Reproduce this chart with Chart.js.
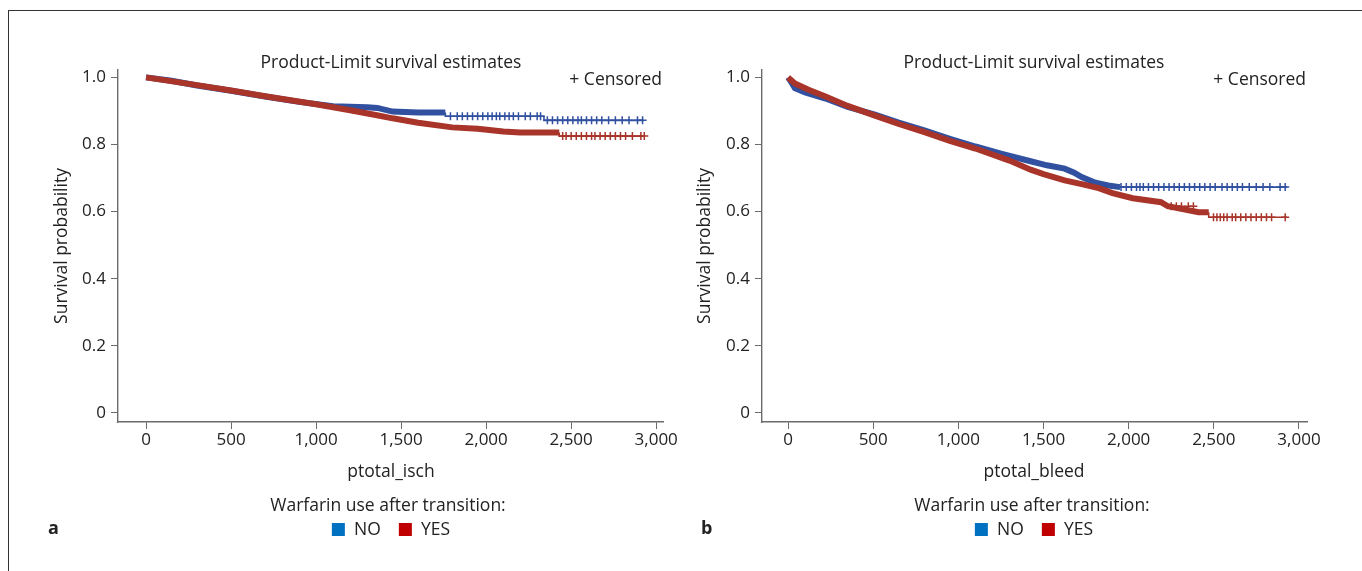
<!DOCTYPE html>
<html>
<head>
<meta charset="utf-8">
<script src="https://cdn.jsdelivr.net/npm/chart.js@4.4.1/dist/chart.umd.min.js"></script>
<style>
  body { margin: 0; background: #fff; width: 1362px; height: 571px; overflow: hidden; position: relative;
         font-family: "Open Sans", sans-serif; color: #222; }
  .frame { position: absolute; left: 8px; top: 10px; width: 1400px; height: 600px;
           border-top: 1px solid #333; border-left: 1px solid #333; }
  .panel { position: absolute; top: 0; width: 690px; height: 571px; }
  .panel canvas { position: absolute; left: 0; top: 0; }
  .txt { position: absolute; white-space: nowrap; font-size: 17.5px; line-height: 22px; }
  .center { transform: translateX(-50%); }
  .ytitle { transform: translate(-50%, -50%) rotate(-90deg); }
  .sq { display: inline-block; width: 13px; height: 13px; vertical-align: -1px; }
  .letter { font-weight: bold; font-size: 18px; }
</style>
</head>
<body>
<div class="frame"></div>

<div class="panel" style="left:0">
  <canvas id="chartA" width="690" height="571"></canvas>
  <div class="txt center" style="left:391px; top:50px">Product-Limit survival estimates</div>
  <div class="txt" style="right:28px; top:67px">+ Censored</div>
  <div class="txt ytitle" style="left:60px; top:246px">Survival probability</div>
  <div class="txt center" style="left:391px; top:459px">ptotal_isch</div>
  <div class="txt center" style="left:388px; top:493px">Warfarin use after transition:</div>
  <div class="txt center" style="left:391px; top:517px"><span class="sq" style="background:#0070C0"></span>&nbsp; NO &nbsp;&nbsp;&nbsp;<span class="sq" style="background:#C00000"></span>&nbsp; YES</div>
  <div class="txt letter" style="left:48px; top:516px">a</div>
</div>

<div class="panel" style="left:644px">
  <canvas id="chartB" width="690" height="571"></canvas>
  <div class="txt center" style="left:390px; top:50px">Product-Limit survival estimates</div>
  <div class="txt" style="right:28px; top:67px">+ Censored</div>
  <div class="txt ytitle" style="left:59px; top:246px">Survival probability</div>
  <div class="txt center" style="left:390px; top:459px">ptotal_bleed</div>
  <div class="txt center" style="left:388px; top:493px">Warfarin use after transition:</div>
  <div class="txt center" style="left:390px; top:517px"><span class="sq" style="background:#0070C0"></span>&nbsp; NO &nbsp;&nbsp;&nbsp;<span class="sq" style="background:#C00000"></span>&nbsp; YES</div>
  <div class="txt letter" style="left:57px; top:516px">b</div>
</div>

<script>
// axis ticks
const xTickValues = [0, 500, 1000, 1500, 2000, 2500, 3000];
const yTickValues = [0, 0.2, 0.4, 0.6, 0.8, 1.0];
const yTickLabels = ["0", "0.2", "0.4", "0.6", "0.8", "1.0"];

// panel a: ptotal_isch
const timeNoA = [0, 150, 300, 500, 700, 900, 1100, 1300, 1360, 1450, 1600, 1760, 1760, 2340, 2340, 2925];
const survNoA = [1.0, 0.99, 0.976, 0.96, 0.943, 0.927, 0.914, 0.911, 0.909, 0.898, 0.895, 0.895, 0.884, 0.884, 0.872, 0.872];
const timeYesA = [0, 300, 500, 700, 1000, 1200, 1350, 1450, 1600, 1800, 1950, 2100, 2200, 2430, 2430, 2930];
const survYesA = [1.0, 0.977, 0.961, 0.944, 0.92, 0.902, 0.888, 0.878, 0.865, 0.851, 0.847, 0.839, 0.836, 0.836, 0.825, 0.825];
const censNoA = [1790, 1830, 1860, 1890, 1920, 1950, 1980, 2010, 2035, 2060, 2080, 2110, 2135, 2160, 2190, 2230, 2260, 2300, 2320,
                 2360, 2390, 2420, 2450, 2480, 2510, 2540, 2560, 2590, 2620, 2650, 2680, 2720, 2760, 2800, 2840, 2890, 2920];
const censYesA = [2450, 2470, 2500, 2530, 2560, 2590, 2620, 2640, 2670, 2700, 2730, 2760, 2790, 2820, 2860, 2910, 2930];

// panel b: ptotal_bleed
const timeNoB = [0, 20, 40, 100, 220, 350, 510, 650, 805, 950, 1100, 1250, 1424, 1520, 1624, 1680, 1724, 1805, 1880, 1950, 2930];
const survNoB = [1.0, 0.985, 0.968, 0.955, 0.937, 0.912, 0.889, 0.865, 0.841, 0.817, 0.794, 0.773, 0.75, 0.738, 0.728, 0.716, 0.703, 0.686, 0.678, 0.673, 0.673];
const timeYesB = [0, 40, 120, 220, 350, 510, 650, 805, 950, 1100, 1300, 1424, 1500, 1624, 1724, 1824, 1905, 2024, 2190, 2230, 2410, 2470, 2470, 2930];
const survYesB = [1.0, 0.982, 0.963, 0.943, 0.915, 0.886, 0.861, 0.836, 0.811, 0.788, 0.752, 0.725, 0.712, 0.693, 0.682, 0.67, 0.655, 0.64, 0.628, 0.616, 0.598, 0.598, 0.583, 0.583];
const censNoB = [1955, 1986, 2016, 2046, 2066, 2086, 2116, 2146, 2176, 2207, 2237, 2267, 2297, 2327, 2357, 2387, 2417, 2447, 2478,
                 2508, 2548, 2578, 2608, 2638, 2668, 2708, 2749, 2789, 2829, 2889, 2919];
const censYesB = [2250, 2280, 2310, 2350, 2380, 2498, 2518, 2538, 2558, 2578, 2608, 2628, 2658, 2688, 2718, 2749, 2779, 2809, 2839, 2919];

const blueLine = "#3151A0";
const redLine = "#A8342A";

function toPoints(times, surv) {
  return times.map((t, i) => ({ x: t, y: surv[i] }));
}

// survival value in effect at time t (last point at or before t)
function survAt(times, surv, t) {
  let v = surv[0];
  for (let i = 0; i < times.length; i++) if (times[i] <= t) v = surv[i];
  return v;
}

function censorPoints(cens, times, surv) {
  return cens.map(t => ({ x: t, y: survAt(times, surv, t) }));
}

function lineSet(times, surv, color, thickUntil, order) {
  return {
    type: "line",
    data: toPoints(times, surv),
    borderColor: color,
    borderWidth: 6,
    pointRadius: 0,
    order: order,
    segment: {
      borderWidth: ctx => ctx.p0.parsed.x >= thickUntil ? 1.6 : 6
    }
  };
}

function censorSet(cens, times, surv, color, order) {
  return {
    type: "scatter",
    data: censorPoints(cens, times, surv),
    borderColor: color,
    backgroundColor: color,
    pointStyle: "cross",
    pointRadius: 4,
    borderWidth: 1.5,
    order: order
  };
}

function makeChart(id, sets, xMin, xMax) {
  new Chart(document.getElementById(id), {
    type: "line",
    data: { datasets: sets },
    options: {
      responsive: false,
      animation: false,
      layout: { padding: { left: 0, top: 70, right: 27, bottom: 109 } },
      plugins: { legend: { display: false }, tooltip: { enabled: false } },
      scales: {
        x: {
          type: "linear",
          min: xMin,
          max: xMax,
          afterBuildTicks: s => { s.ticks = xTickValues.map(v => ({ value: v })); },
          afterFit: s => { s.height = 40; },
          ticks: {
            callback: v => v.toLocaleString("en-US"),
            font: { family: "'Open Sans'", size: 17 },
            color: "#222",
            padding: 1,
            maxRotation: 0
          },
          grid: { drawOnChartArea: false, drawTicks: true, tickLength: 7, color: "#6b6b6b" },
          border: { display: true, color: "#6b6b6b", width: 1.4 }
        },
        y: {
          type: "linear",
          min: -0.027,
          max: 1.022,
          afterBuildTicks: s => { s.ticks = yTickValues.map(v => ({ value: v })); },
          afterFit: s => { s.width = 118; },
          ticks: {
            callback: (v, i) => yTickLabels[i],
            font: { family: "'Open Sans'", size: 17 },
            color: "#222",
            padding: 5
          },
          grid: { drawOnChartArea: false, drawTicks: true, tickLength: 7, color: "#6b6b6b" },
          border: { display: true, color: "#6b6b6b", width: 1.4 }
        }
      }
    }
  });
}

makeChart("chartA", [
  censorSet(censYesA, timeYesA, survYesA, redLine, 0),
  censorSet(censNoA, timeNoA, survNoA, blueLine, 1),
  lineSet(timeYesA, survYesA, redLine, 2430, 2),
  lineSet(timeNoA, survNoA, blueLine, 1760, 3)
], -165, 3040);

makeChart("chartB", [
  censorSet(censYesB, timeYesB, survYesB, redLine, 0),
  censorSet(censNoB, timeNoB, survNoB, blueLine, 1),
  lineSet(timeYesB, survYesB, redLine, 2470, 2),
  lineSet(timeNoB, survNoB, blueLine, 1950, 3)
], -153, 3047);
</script>
</body>
</html>
